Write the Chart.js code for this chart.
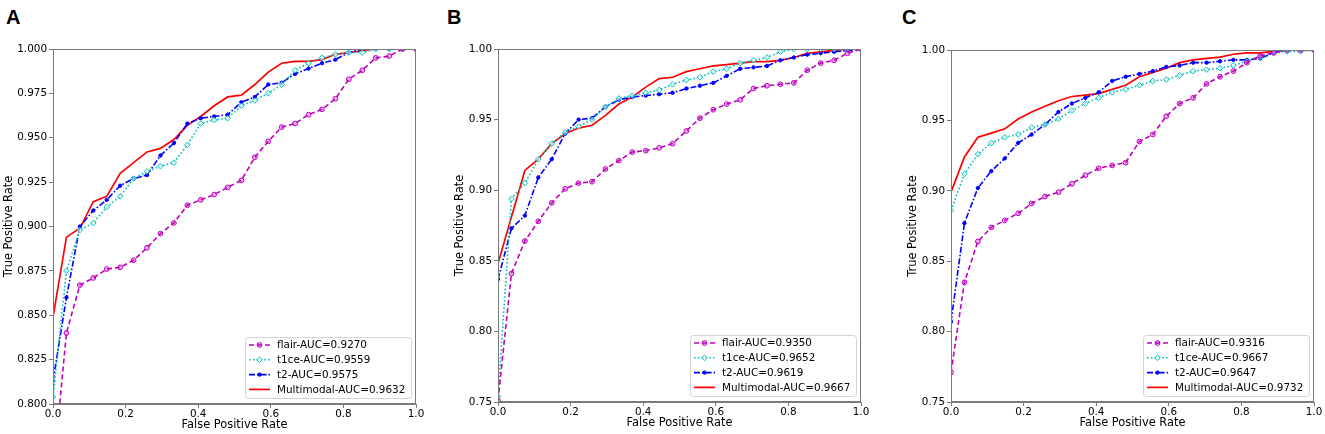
<!DOCTYPE html>
<html>
<head>
<meta charset="utf-8">
<script src="https://cdn.jsdelivr.net/npm/chart.js@4.4.0/dist/chart.umd.min.js"></script>
<style>
  body { margin: 0; background: #fff; }
  #wrap { position: relative; width: 1325px; height: 434px; overflow: hidden; }
  canvas { position: absolute; top: 0; }
  .letter { position: absolute; top: 7px; font: bold 20px "Liberation Sans", Arial, sans-serif; line-height: 20px; color: #000; }
</style>
</head>
<body>
<div id="wrap">
  <div class="letter" style="left:6px">A</div>
  <div class="letter" style="left:447px">B</div>
  <div class="letter" style="left:902px">C</div>
  <canvas id="chartA" width="430" height="434" style="left:0px"></canvas>
  <canvas id="chartB" width="419" height="434" style="left:451px"></canvas>
  <canvas id="chartC" width="421" height="434" style="left:904px"></canvas>
</div>
<script>
// false positive rate grid shared by every curve
const fpr = [0, 0.037, 0.074, 0.111, 0.148, 0.185, 0.222, 0.259, 0.296, 0.333, 0.370, 0.407, 0.444, 0.481,
             0.519, 0.556, 0.593, 0.630, 0.667, 0.704, 0.741, 0.778, 0.815, 0.852, 0.889, 0.926, 0.963, 1.0];

const seriesNames = ["flair", "t1ce", "t2", "Multimodal"];

// panel A
const flairA = [0.760, 0.840, 0.867, 0.871, 0.876, 0.877, 0.881, 0.888, 0.896, 0.902, 0.912, 0.915, 0.918, 0.922,
                0.926, 0.939, 0.948, 0.956, 0.958, 0.963, 0.966, 0.972, 0.983, 0.988, 0.995, 0.996, 1.000, 1.000];
const t1ceA  = [0.804, 0.875, 0.898, 0.902, 0.911, 0.917, 0.927, 0.931, 0.934, 0.936, 0.946, 0.958, 0.960, 0.961,
                0.968, 0.971, 0.975, 0.980, 0.988, 0.992, 0.995, 0.997, 0.998, 0.998, 1.000, 1.000, 1.000, 1.000];
const t2A    = [0.813, 0.860, 0.900, 0.909, 0.915, 0.923, 0.927, 0.929, 0.940, 0.947, 0.958, 0.961, 0.962, 0.963,
                0.970, 0.973, 0.980, 0.981, 0.986, 0.989, 0.992, 0.994, 0.998, 1.000, 1.000, 1.000, 1.000, 1.000];
const multiA = [0.849, 0.894, 0.899, 0.914, 0.917, 0.930, 0.936, 0.942, 0.944, 0.949, 0.957, 0.962, 0.968, 0.973,
                0.974, 0.980, 0.987, 0.992, 0.993, 0.993, 0.994, 0.997, 0.998, 0.999, 1.000, 1.000, 1.000, 1.000];
const aucA = [0.9270, 0.9559, 0.9575, 0.9632];

// panel B
const flairB = [0.751, 0.841, 0.864, 0.878, 0.891, 0.901, 0.905, 0.906, 0.915, 0.921, 0.927, 0.928, 0.930, 0.933,
                0.942, 0.951, 0.957, 0.961, 0.964, 0.972, 0.974, 0.975, 0.976, 0.985, 0.990, 0.992, 0.997, 1.000];
const t1ceB  = [0.754, 0.894, 0.905, 0.922, 0.933, 0.941, 0.945, 0.950, 0.959, 0.965, 0.967, 0.969, 0.971, 0.975,
                0.978, 0.980, 0.984, 0.986, 0.990, 0.992, 0.994, 0.998, 1.000, 1.000, 1.000, 1.000, 1.000, 1.000];
const t2B    = [0.837, 0.873, 0.882, 0.909, 0.922, 0.940, 0.950, 0.951, 0.959, 0.964, 0.966, 0.967, 0.968, 0.969,
                0.972, 0.974, 0.976, 0.981, 0.986, 0.987, 0.988, 0.992, 0.994, 0.996, 0.997, 0.998, 0.999, 1.000];
const multiB = [0.848, 0.881, 0.914, 0.922, 0.933, 0.940, 0.944, 0.946, 0.953, 0.961, 0.966, 0.973, 0.979, 0.980,
                0.984, 0.986, 0.988, 0.989, 0.990, 0.991, 0.991, 0.992, 0.994, 0.997, 0.998, 0.999, 1.000, 1.000];
const aucB = [0.9350, 0.9652, 0.9619, 0.9667];

// panel C
const flairC = [0.771, 0.835, 0.864, 0.874, 0.879, 0.884, 0.891, 0.896, 0.899, 0.905, 0.911, 0.916, 0.918, 0.920,
                0.935, 0.940, 0.953, 0.962, 0.966, 0.976, 0.981, 0.985, 0.991, 0.996, 0.998, 1.000, 1.000, 1.000];
const t1ceC  = [0.886, 0.912, 0.926, 0.934, 0.938, 0.940, 0.945, 0.947, 0.951, 0.957, 0.962, 0.966, 0.970, 0.972,
                0.975, 0.978, 0.979, 0.982, 0.985, 0.986, 0.987, 0.989, 0.992, 0.995, 0.998, 0.999, 0.999, 1.000];
const t2C    = [0.807, 0.877, 0.902, 0.914, 0.923, 0.934, 0.940, 0.947, 0.956, 0.962, 0.966, 0.970, 0.978, 0.981,
                0.983, 0.985, 0.988, 0.989, 0.991, 0.991, 0.992, 0.993, 0.993, 0.994, 0.998, 1.000, 1.000, 1.000];
const multiC = [0.899, 0.924, 0.938, 0.941, 0.944, 0.951, 0.956, 0.960, 0.964, 0.967, 0.968, 0.969, 0.972, 0.975,
                0.981, 0.984, 0.987, 0.991, 0.993, 0.994, 0.995, 0.997, 0.998, 0.998, 0.999, 1.000, 1.000, 1.000];
const aucC = [0.9316, 0.9667, 0.9647, 0.9732];

// tick labels
const xTicks = [0, 0.2, 0.4, 0.6, 0.8, 1.0];
const yTicksA = [0.800, 0.825, 0.850, 0.875, 0.900, 0.925, 0.950, 0.975, 1.000];
const yTicksBC = [0.75, 0.80, 0.85, 0.90, 0.95, 1.00];

const FONT = "DejaVu Sans";
const AXIS_GREY = "#7a7a7a";

const styles = [
  { color: "#bf00bf", dash: [5, 3], width: 1.6, point: "circle", radius: 2.4, fill: "rgba(191,0,191,0.3)" },
  { color: "#00bfbf", dash: [1.6, 2.2], width: 1.6, point: "rectRot", radius: 2.8, fill: "rgba(255,255,255,0.6)" },
  { color: "#0000ff", dash: [6, 2, 1.6, 2], width: 1.6, point: "circle", radius: 1.7, fill: "#0000ff" },
  { color: "#ff0000", dash: [], width: 1.7, point: false, radius: 0, fill: "#ff0000" }
];

// frame around the plot area, matplotlib style
const framePlugin = {
  id: "frame",
  afterDatasetsDraw(chart) {
    const a = chart.chartArea, ctx = chart.ctx;
    ctx.save();
    ctx.strokeStyle = AXIS_GREY;
    ctx.lineWidth = 1;
    ctx.strokeRect(a.left + 0.5, a.top + 0.5, a.right - a.left - 1, a.bottom - a.top - 1);
    ctx.restore();
  }
};

// legend box in the lower right corner of the plot
const rocLegend = {
  id: "rocLegend",
  afterDraw(chart) {
    const a = chart.chartArea, ctx = chart.ctx;
    const w = 166, h = 61;
    const left = a.right - 5 - w, top = a.bottom - 6 - h;
    ctx.save();
    ctx.beginPath();
    ctx.roundRect(left + 0.5, top + 0.5, w, h, 3);
    ctx.fillStyle = "rgba(255,255,255,0.85)";
    ctx.fill();
    ctx.strokeStyle = "#d4d4d4";
    ctx.lineWidth = 1;
    ctx.stroke();
    chart.data.datasets.forEach((ds, i) => {
      const y = top + 8 + i * 14.8;
      const st = styles[i];
      ctx.beginPath();
      ctx.setLineDash(st.dash);
      ctx.strokeStyle = st.color;
      ctx.lineWidth = st.width;
      ctx.moveTo(left + 4, y);
      ctx.lineTo(left + 25, y);
      ctx.stroke();
      ctx.setLineDash([]);
      if (st.point) {
        ctx.fillStyle = st.fill;
        ctx.strokeStyle = st.color;
        ctx.lineWidth = 1;
        Chart.helpers.drawPoint(ctx, { pointStyle: st.point, radius: st.radius, rotation: 0, borderWidth: 1 }, left + 14.5, y);
      }
      ctx.fillStyle = "#000";
      ctx.font = "10.4px '" + FONT + "'";
      ctx.textBaseline = "middle";
      ctx.fillText(ds.label, left + 32, y + 0.5);
    });
    ctx.restore();
  }
};

function makePanel(id, values, auc, yTicks, yDec, layout) {
  const datasets = values.map((vals, i) => {
    const st = styles[i];
    return {
      label: seriesNames[i] + "-AUC=" + auc[i].toFixed(4),
      data: fpr.map((x, k) => ({ x: x, y: vals[k] })),
      borderColor: st.color,
      borderWidth: st.width,
      borderDash: st.dash,
      pointStyle: st.point,
      pointRadius: st.radius,
      pointBorderWidth: 1,
      pointBorderColor: st.color,
      pointBackgroundColor: st.fill,
      tension: 0,
      fill: false
    };
  });

  new Chart(document.getElementById(id), {
    type: "line",
    data: { datasets: datasets },
    options: {
      responsive: false,
      animation: false,
      layout: { padding: { top: layout.top, right: layout.right, left: 0, bottom: 0 } },
      plugins: { legend: { display: false }, tooltip: { enabled: false } },
      scales: {
        x: {
          type: "linear",
          min: 0, max: 1,
          afterBuildTicks: s => { s.ticks = xTicks.map(v => ({ value: v })); },
          afterFit: s => { s.height = layout.xh; },
          ticks: { autoSkip: false, maxRotation: 0, padding: 0, color: "#000",
                   font: { family: FONT, size: 10.4 }, callback: v => v.toFixed(1) },
          grid: { drawOnChartArea: false, tickLength: 4, color: AXIS_GREY },
          border: { color: AXIS_GREY },
          title: { display: true, text: "False Positive Rate", color: "#000",
                   font: { family: FONT, size: 11.4 }, padding: { top: 0, bottom: layout.xtp } }
        },
        y: {
          type: "linear",
          min: yTicks[0], max: yTicks[yTicks.length - 1],
          afterBuildTicks: s => { s.ticks = yTicks.map(v => ({ value: v })); },
          afterFit: s => { s.width = layout.yw; },
          ticks: { autoSkip: false, padding: 2, color: "#000",
                   font: { family: FONT, size: 10.4 }, callback: v => v.toFixed(yDec) },
          grid: { drawOnChartArea: false, tickLength: 4, color: AXIS_GREY },
          border: { color: AXIS_GREY },
          title: { display: true, text: "True Positive Rate", color: "#000",
                   font: { family: FONT, size: 11.4 }, padding: { top: 2, bottom: 0 } }
        }
      }
    },
    plugins: [framePlugin, rocLegend]
  });
}

makePanel("chartA", [flairA, t1ceA, t2A, multiA], aucA, yTicksA, 3, { top: 49, right: 14, yw: 53, xh: 30, xtp: 2 });
makePanel("chartB", [flairB, t1ceB, t2B, multiB], aucB, yTicksBC, 2, { top: 49, right: 9, yw: 47, xh: 32, xtp: 4 });
makePanel("chartC", [flairC, t1ceC, t2C, multiC], aucC, yTicksBC, 2, { top: 50, right: 11, yw: 47, xh: 32, xtp: 4 });
</script>
</body>
</html>
